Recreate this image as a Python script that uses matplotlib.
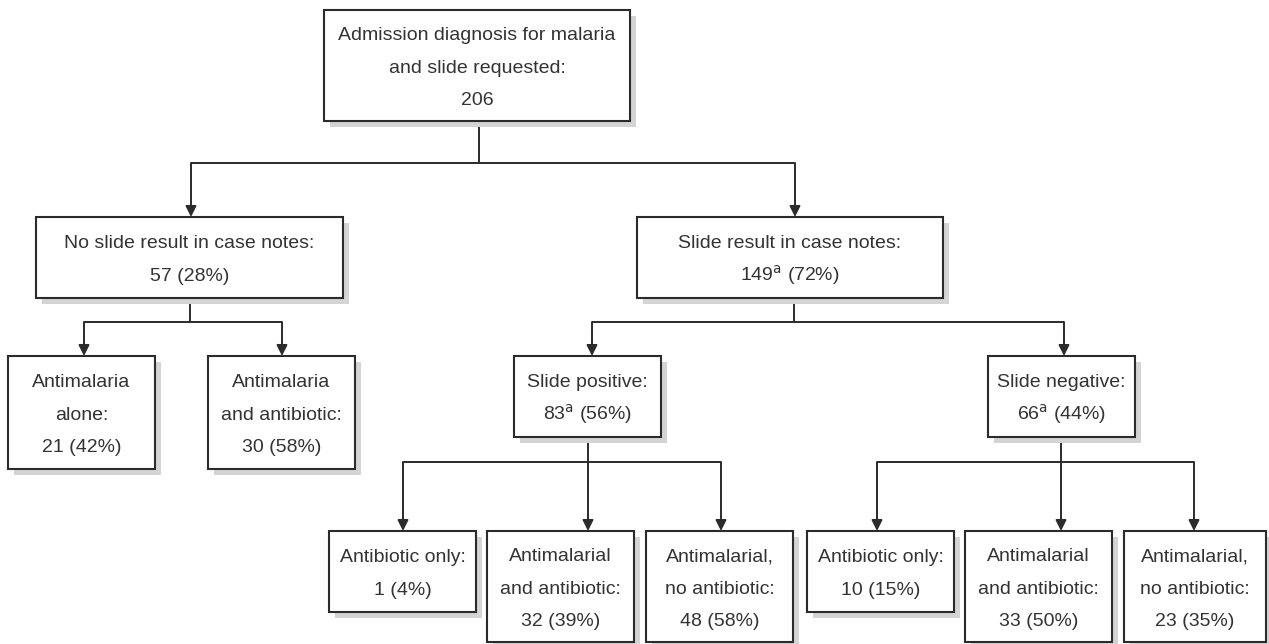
import matplotlib.pyplot as plt
from matplotlib.patches import Rectangle

plt.rcParams['font.family'] = ['Liberation Sans Narrow', 'Liberation Sans', 'DejaVu Sans']
plt.rcParams['mathtext.fontset'] = 'custom'
plt.rcParams['mathtext.rm'] = 'Liberation Sans Narrow'

# --- data -------------------------------------------------------------
root_label = "Admission diagnosis for malaria\nand slide requested:"
root_n = 206

l1_labels = ["No slide result in case notes:", "Slide result in case notes:"]
l1_n = [57, 149]
l1_pct = [28, 72]
l1_sup = ["", "a"]

noslide_labels = ["Antimalaria\nalone:", "Antimalaria\nand antibiotic:"]
noslide_n = [21, 30]
noslide_pct = [42, 58]

slide_labels = ["Slide positive:", "Slide negative:"]
slide_n = [83, 66]
slide_pct = [56, 44]
slide_sup = ["a", "a"]

treat_labels = ["Antibiotic only:", "Antimalarial\nand antibiotic:", "Antimalarial,\nno antibiotic:"]
pos_n = [1, 32, 48]
pos_pct = [4, 39, 58]
neg_n = [10, 33, 23]
neg_pct = [15, 50, 35]

# --- layout (pixel coords, y down) -------------------------------------
LINE = '#2b2b2b'
SHADOW = '#d4d4d4'
TXT = '#333333'
FS = 14
PITCH = 32.5          # px between baselines
CAP = FS * 100 / 72 * 0.73

fig = plt.figure(figsize=(12.69, 6.44), dpi=100)
ax = fig.add_axes([0, 0, 1, 1])
ax.set_xlim(0, 1269)
ax.set_ylim(644, 0)
ax.axis('off')


def count_text(n, pct, sup=""):
    s = f"{n}"
    if sup:
        s += r"$^{\mathrm{" + sup + "}}$"
    return s + f" ({pct}%)"


def box(x0, y0, x1, y1, text):
    ax.add_patch(Rectangle((x0 + 6, y0 + 6), x1 - x0, y1 - y0, facecolor=SHADOW,
                           edgecolor='none', zorder=1))
    ax.add_patch(Rectangle((x0, y0), x1 - x0, y1 - y0, facecolor='white',
                           edgecolor=LINE, lw=1.5, zorder=2))
    lines = text.split("\n")
    k = len(lines)
    mid = (y0 + y1) / 2
    b0 = mid - ((k - 1) * PITCH - CAP) / 2
    for i, s in enumerate(lines):
        ax.text((x0 + x1) / 2, b0 + i * PITCH, s, ha='center', va='baseline',
                fontsize=FS, color=TXT, zorder=3)


def line(xs, ys):
    ax.plot(xs, ys, color=LINE, lw=1.4, zorder=0, solid_capstyle='butt')


def arrow(x, y0, y1):
    ax.annotate('', xy=(x, y1), xytext=(x, y0),
                arrowprops=dict(arrowstyle='-|>', color=LINE, lw=1.4,
                                mutation_scale=16, shrinkA=0, shrinkB=0),
                zorder=0)


def branch(xc, y_from, y_mid, xs, y_to):
    line([xc, xc], [y_from, y_mid])
    line([min(xs), max(xs)], [y_mid, y_mid])
    for x in xs:
        arrow(x, y_mid, y_to)


# root
box(324, 10, 630, 121, root_label + "\n" + str(root_n))
branch(479, 121, 163, [191, 795], 217)

# level 1
l1_pos = [(36, 343), (637, 943)]
for (x0, x1), lab, n, p, s in zip(l1_pos, l1_labels, l1_n, l1_pct, l1_sup):
    box(x0, 217, x1, 298, lab + "\n" + count_text(n, p, s))

# no slide branch
branch(190, 298, 322, [84, 282], 356)
ns_pos = [(8, 155), (208, 355)]
for (x0, x1), lab, n, p in zip(ns_pos, noslide_labels, noslide_n, noslide_pct):
    box(x0, 356, x1, 469, lab + "\n" + count_text(n, p))

# slide branch
branch(794, 298, 322, [592, 1064], 356)
sl_pos = [(514, 661), (988, 1135)]
for (x0, x1), lab, n, p, s in zip(sl_pos, slide_labels, slide_n, slide_pct, slide_sup):
    box(x0, 356, x1, 437, lab + "\n" + count_text(n, p, s))

# treatments
pos_xs = [(329, 476), (487, 634), (646, 793)]
neg_xs = [(807, 954), (965, 1112), (1124, 1266)]
pos_arrows = [403, 588, 721]
neg_arrows = [877, 1061, 1194]
branch(588, 437, 462, pos_arrows, 531)
branch(1061, 437, 462, neg_arrows, 531)

for xs, ns, ps in [(pos_xs, pos_n, pos_pct), (neg_xs, neg_n, neg_pct)]:
    for i, ((x0, x1), lab, n, p) in enumerate(zip(xs, treat_labels, ns, ps)):
        y1 = 612 if i == 0 else 642
        box(x0, 531, x1, y1, lab + "\n" + count_text(n, p))

fig.savefig('out.png', dpi=100)
